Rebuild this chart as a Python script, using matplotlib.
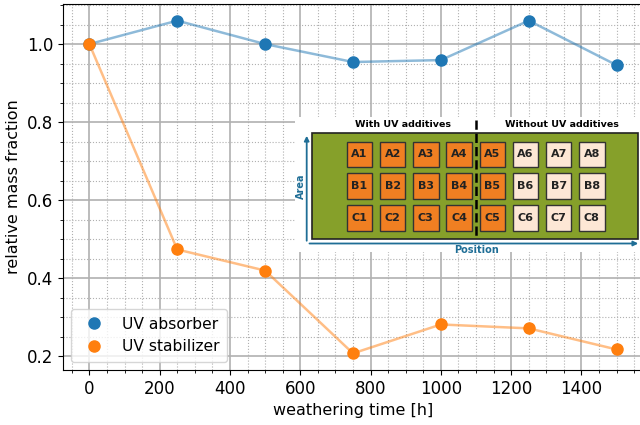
import matplotlib
matplotlib.use('Agg')
import matplotlib.pyplot as plt
from matplotlib.patches import Rectangle, FancyArrowPatch
from matplotlib.ticker import MultipleLocator

# weathering data
time_h = [0, 250, 500, 750, 1000, 1250, 1500]
uv_absorber = [1.0, 1.06, 1.0, 0.954, 0.959, 1.06, 0.946]
uv_stabilizer = [1.0, 0.474, 0.420, 0.208, 0.282, 0.272, 0.218]

# sample layout for the inset sketch
row_names = ['A', 'B', 'C']
n_cols = 8
n_with_additive = 5
group_labels = ['With UV additives', 'Without UV additives']

c_abs = '#1f77b4'
c_stab = '#ff7f0e'

fig = plt.figure(figsize=(6.4, 4.25), dpi=100)
ax = fig.add_axes([63/640, 55/425, 580/640, 366/425])

ax.plot(time_h, uv_absorber, color=c_abs, alpha=0.5, lw=1.8)
ax.plot(time_h, uv_stabilizer, color=c_stab, alpha=0.5, lw=1.8)
ax.plot(time_h, uv_absorber, 'o', color=c_abs, ms=8, label='UV absorber')
ax.plot(time_h, uv_stabilizer, 'o', color=c_stab, ms=8, label='UV stabilizer')

ax.xaxis.set_major_locator(MultipleLocator(200))
ax.xaxis.set_minor_locator(MultipleLocator(50))
ax.yaxis.set_major_locator(MultipleLocator(0.2))
ax.yaxis.set_minor_locator(MultipleLocator(0.05))
ax.grid(which='major', color='#b0b0b0', lw=1.2)
ax.grid(which='minor', color='#b0b0b0', lw=0.8, ls=':')
ax.set_axisbelow(True)
ax.tick_params(labelsize=12)
ax.set_xlabel('weathering time [h]', fontsize=11.5)
ax.set_ylabel('relative mass fraction', fontsize=11.5)
ax.legend(loc='lower left', fontsize=11.2, handletextpad=0.8, borderpad=0.5)

# inset sketch, drawn in pixel units of the figure
ins = fig.add_axes([295/640, (425-252)/425, 350/640, 135/425])
ins.set_xlim(295, 645)
ins.set_ylim(252, 117)
ins.set_xticks([])
ins.set_yticks([])
for s in ins.spines.values():
    s.set_visible(False)
ins.set_facecolor('white')

ins.add_patch(Rectangle((311.7, 133.3), 326.3, 106, facecolor='#86a02a',
                        edgecolor='#222222', lw=1.2))
x0, y0, dx, dy, sz = 346.7, 141.7, 33.2, 31.7, 25.5
for r, name in enumerate(row_names):
    for c in range(n_cols):
        fc = '#f07f22' if c < n_with_additive else '#fde7d5'
        ins.add_patch(Rectangle((x0 + c*dx, y0 + r*dy), sz, sz, facecolor=fc,
                                edgecolor='#333333', lw=1.0))
        ins.text(x0 + c*dx + sz/2, y0 + r*dy + sz/2, '%s%d' % (name, c+1),
                 ha='center', va='center', fontsize=8, fontweight='bold', color='#222222')

ins.plot([475.7, 475.7], [120, 238], color='black', ls='--', lw=1.8)
ins.text(403, 124, group_labels[0], ha='center', va='center', fontsize=6.8, fontweight='bold')
ins.text(561.7, 124, group_labels[1], ha='center', va='center', fontsize=6.8, fontweight='bold')

arrow_c = '#1f6e96'
ins.add_patch(FancyArrowPatch((306.7, 243.5), (306.7, 133), arrowstyle='-|>',
                              mutation_scale=7, color=arrow_c, lw=1.3))
ins.add_patch(FancyArrowPatch((306.7, 243.5), (641, 243.5), arrowstyle='-|>',
                              mutation_scale=7, color=arrow_c, lw=1.3))
ins.text(300.5, 186.7, 'Area', rotation=90, ha='center', va='center', fontsize=7,
         fontweight='bold', color=arrow_c)
ins.text(476.7, 250, 'Position', ha='center', va='center', fontsize=7,
         fontweight='bold', color=arrow_c)

fig.savefig('out.png', dpi=100)
